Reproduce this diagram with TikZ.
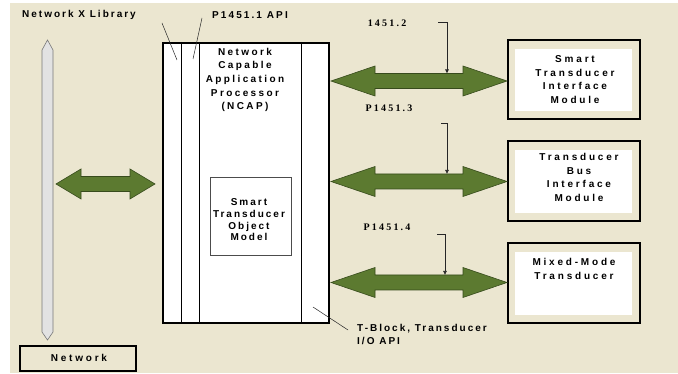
\documentclass[tikz,border=0pt]{standalone}
\usepackage{fontspec}
\setmainfont{Liberation Sans}
\newfontfamily\serifl{Liberation Serif}
\usetikzlibrary{arrows.meta,calc}
\definecolor{bg}{RGB}{235,230,208}
\definecolor{grn}{RGB}{92,122,48}
\definecolor{grnd}{RGB}{55,75,28}
\definecolor{pill}{RGB}{226,226,226}
\definecolor{pilld}{RGB}{120,120,120}
\newcommand\trk[1]{\addfontfeatures{LetterSpace=#1}}
\newcommand\garrow[3]{%
  \fill[grn, draw=grnd, line width=0.6pt] let \p1=(#1), \p2=(#2) in
   (\x1,\y1) -- (\x1+#3pt,\y1+15pt) -- (\x1+#3pt,\y1+7.5pt) -- (\x2-#3pt,\y1+7.5pt)
   -- (\x2-#3pt,\y1+15pt) -- (\x2,\y1) -- (\x2-#3pt,\y1-15pt) -- (\x2-#3pt,\y1-7.5pt)
   -- (\x1+#3pt,\y1-7.5pt) -- (\x1+#3pt,\y1-15pt) -- cycle;}
\tikzset{
  base/.style={font=\fontsize{10}{12}\selectfont\bfseries},
  thickbox/.style={draw=black, line width=2pt, inner sep=0pt, anchor=north west},
  txt/.style={base, inner sep=0pt, align=center},
  ltxt/.style={base, inner sep=0pt, align=left},
  sertxt/.style={font=\serifl\bfseries\fontsize{10}{12}\selectfont\trk{22}, inner sep=0pt},
  ptr/.style={draw=black!85, line width=0.6pt},
  ptrarrow/.style={ptr, -{Latex[length=4pt,width=4pt]}},
}
\begin{document}
\begin{tikzpicture}[x=1pt,y=-1pt]
\useasboundingbox (0,0) rectangle (678,374);
\fill[bg] (10,3) rectangle (678,373);

% top-left labels
\node[ltxt, anchor=west] (nxl) at (22,15) {\trk{20}Network X Library};
\node[ltxt, anchor=west] (api) at (212,15) {\trk{21}P1451.1 API};

% network pillar
\draw[fill=pill, draw=pilld, line width=0.6pt] (42,50) -- (47.5,40) -- (53,50) -- (53,332) -- (47.5,340) -- (42,332) -- cycle;
\coordinate (pillar) at (53,184);

% network box
\node[thickbox, line width=1.8pt, fill=bg, minimum width=116pt, minimum height=25pt] (net) at (19,345) {};
\node[txt] (nettxt) at ($(net.center)+(1,0)$) {\trk{28}Network};

% NCAP
\node[thickbox, fill=white, minimum width=166pt, minimum height=280pt] (ncap) at (162,42) {};
\draw[line width=0.8pt] ($(ncap.north west)+(19,0)$) -- ($(ncap.south west)+(19,0)$);
\draw[line width=0.8pt] ($(ncap.north west)+(37,0)$) -- ($(ncap.south west)+(37,0)$);
\draw[line width=0.8pt] ($(ncap.north west)+(139,0)$) -- ($(ncap.south west)+(139,0)$);
\node[thickbox, fill=none, minimum width=166pt, minimum height=280pt] (ncapb) at (162,42) {};
\node[txt, font=\fontsize{10}{13.7}\selectfont\bfseries] (ncaptxt) at (245,80) {\trk{24}Network\\\trk{24}Capable\\\trk{24}Application\\\trk{24}Processor\\\trk{24}(NCAP)};

% STOM
\node[draw=black!70, line width=0.8pt, fill=white, minimum width=81pt, minimum height=78pt, inner sep=0pt, anchor=north west] (stom) at (210,177) {};
\node[txt, font=\fontsize{10}{11.7}\selectfont\bfseries] (stomtxt) at (249,220) {\trk{20}Smart\\\trk{20}Transducer\\\trk{20}Object\\\trk{20}Model};

% pointer lines to API layers
\coordinate (libp) at (162,23);
\coordinate (libq) at (177,60);
\draw[ptr, line width=0.5pt] (libp) -- (libq);
\coordinate (apip) at (202,18);
\coordinate (apiq) at (193,59);
\draw[ptr, line width=0.5pt] (apip) -- (apiq);

% T-Block label
\node[ltxt, anchor=north west, font=\fontsize{10}{13}\selectfont\bfseries] (tblk) at (357,324) {\trk{20}T-Block, Transducer\\\trk{20}I/O API};
\coordinate (tbq) at (313,307);
\draw[ptr, line width=0.5pt] (tbq) -- (348,330);

% modules
\node[thickbox, fill=bg, minimum width=132pt, minimum height=79pt] (stim) at (507,39) {};
\fill[white] ($(stim.north west)+(8,10)$) rectangle ($(stim.south east)+(-9,-9)$);
\node[txt, font=\fontsize{10}{13.4}\selectfont\bfseries] (stimtxt) at (575,79.5) {\trk{28}Smart\\\trk{28}Transducer\\\trk{28}Interface\\\trk{28}Module};

\node[thickbox, fill=bg, minimum width=132pt, minimum height=80pt] (tbim) at (507,140) {};
\fill[white] ($(tbim.north west)+(8,10)$) rectangle ($(tbim.south east)+(-9,-9)$);
\node[txt, font=\fontsize{10}{13.6}\selectfont\bfseries] (tbimtxt) at (579,177.5) {\trk{28}Transducer\\\trk{28}Bus\\\trk{28}Interface\\\trk{28}Module};

\node[thickbox, fill=bg, minimum width=132pt, minimum height=80pt] (mmt) at (507,242) {};
\fill[white] ($(mmt.north west)+(8,10)$) rectangle ($(mmt.south east)+(-9,-9)$);
\node[txt, font=\fontsize{10}{13.4}\selectfont\bfseries] (mmttxt) at (574,269) {\trk{28}Mixed-Mode\\\trk{28}Transducer};

% green double arrows
\coordinate (a0s) at ($(pillar)+(3,0)$);
\coordinate (a0e) at ($(ncap.west |- a0s)+(-7,0)$);
\garrow{a0s}{a0e}{25}
\coordinate (a1s) at ($(ncap.east |- 0,81)+(1,0)$);
\coordinate (a1e) at (stim.west |- a1s);
\garrow{a1s}{a1e}{44}
\coordinate (a2s) at ($(ncap.east |- 0,181.5)+(1,0)$);
\coordinate (a2e) at (tbim.west |- a2s);
\garrow{a2s}{a2e}{44}
\coordinate (a3s) at ($(ncap.east |- 0,282.5)+(1,0)$);
\coordinate (a3e) at (mmt.west |- a3s);
\garrow{a3s}{a3e}{44}

% serif labels and pointers
\node[sertxt] (l2) at (387,23) {1451.2};
\node[sertxt] (l3) at (389,108) {P1451.3};
\node[sertxt] (l4) at (387,227) {P1451.4};
\coordinate (p2) at (438,22);
\coordinate (p2t) at (447,73.5);
\draw[ptrarrow] (p2) -| (p2t);
\coordinate (p3) at (441,123);
\coordinate (p3t) at (447,174);
\draw[ptrarrow] (p3) -| (p3t);
\coordinate (p4) at (437,234);
\coordinate (p4t) at (445,275);
\draw[ptrarrow] (p4) -| (p4t);
\end{tikzpicture}
\end{document}
